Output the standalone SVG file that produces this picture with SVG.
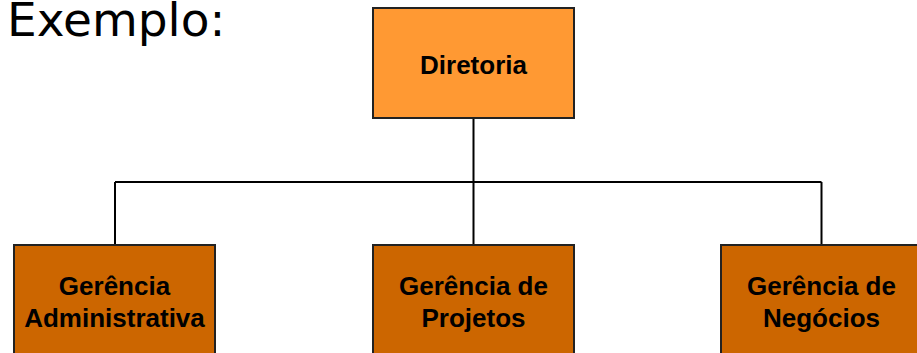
<svg xmlns="http://www.w3.org/2000/svg" width="917" height="353" viewBox="0 0 917 353">
<style>
.box{stroke:#222;stroke-width:2}
.top{fill:#FF9933}
.sub{fill:#CC6600}
.lbl{font-family:"Liberation Sans",Arial,sans-serif;font-weight:bold;font-size:26px;fill:#000;text-anchor:middle}
.conn{fill:none;stroke:#000;stroke-width:2}
</style>
<rect width="917" height="353" fill="#fff"/>
<text x="7" y="36" font-family="DejaVu Sans, sans-serif" font-size="47" fill="#000">Exemplo:</text>
<g id="connectors">
<path class="conn" d="M473.5 118 V182 M115 182 H821.5 M115 182 V245 M473.5 182 V245 M821.5 182 V245"/>
</g>
<g id="diretoria">
<rect class="box top" x="373" y="8" width="201" height="110"/>
<text class="lbl" x="473.5" y="74">Diretoria</text>
</g>
<g id="ger-adm">
<rect class="box sub" x="14" y="245" width="201" height="112"/>
<text class="lbl" x="114.5" y="295">Gerência</text>
<text class="lbl" x="114.5" y="327">Administrativa</text>
</g>
<g id="ger-proj">
<rect class="box sub" x="373" y="245" width="201" height="112"/>
<text class="lbl" x="473.5" y="295">Gerência de</text>
<text class="lbl" x="473.5" y="327">Projetos</text>
</g>
<g id="ger-neg">
<rect class="box sub" x="721" y="245" width="201" height="112"/>
<text class="lbl" x="821.5" y="295">Gerência de</text>
<text class="lbl" x="821.5" y="327">Negócios</text>
</g>
</svg>
